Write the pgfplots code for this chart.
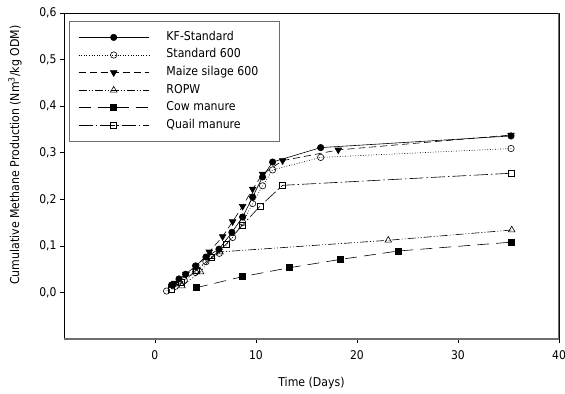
\documentclass[border=0pt]{standalone}
\usepackage{fontspec}
\setmainfont{DejaVu Sans Condensed}
\usepackage{pgfplots}
\pgfplotsset{compat=1.18}
\definecolor{axgray}{RGB}{110,110,110}
\begin{document}
\begin{tikzpicture}
\path[use as bounding box] (-64bp,-55bp) rectangle (501bp,339bp);
\begin{axis}[
  at={(0,0)}, anchor=south west,
  scale only axis, width=495bp, height=326bp,
  xmin=-9, xmax=40, ymin=-0.1, ymax=0.6,
  xtick={0,10,20,30,40}, ytick={0,0.1,0.2,0.3,0.4,0.5,0.6},
  axis line style={black, line width=0.7pt},
  tick style={black, line width=0.6pt},
  tick align=outside, major tick length=4bp,
  xtick pos=left, ytick pos=left,
  /pgf/number format/assume math mode=true,
  yticklabel style={/pgf/number format/.cd, fixed, fixed zerofill, precision=1, use comma, /tikz/.cd},
  tick label style={font=\fontsize{12bp}{14bp}\selectfont},
  xticklabel style={yshift=-4bp},
  every axis x label/.style={at={(rel axis cs:0.5,0)}, yshift=-44bp, anchor=center},
  every axis y label/.style={at={(rel axis cs:0,0.564)}, xshift=-49bp, rotate=90, anchor=center},
  label style={font=\fontsize{12.2bp}{14bp}\selectfont},
  xlabel={Time (Days)},
  ylabel={Cumulative Methane Production (Nm\textsuperscript{3}/kg ODM)},
  legend cell align=left,
  legend image code/.code={\draw[mark repeat=2,mark phase=2,#1] plot coordinates {(0bp,0bp) (35bp,0bp) (70bp,0bp)};},
  legend style={at={(rel axis cs:0.0101,0.9755)}, anchor=north west,
    draw=axgray, line width=0.8pt, fill=white,
    inner xsep=9bp, inner ysep=10.5bp, row sep=6.6bp, column sep=14bp,
    font=\fontsize{12.2bp}{14bp}\selectfont,
    nodes={text height=8.5bp, text depth=2.5bp, inner ysep=0pt, inner xsep=3.5bp}},
]
\addplot[black, line width=0.6pt, mark=*, mark size=3.2bp, mark options={solid, fill=black}] coordinates {
(1.65,0.016) (2.38,0.029) (3.04,0.039) (4.03,0.057) (5.05,0.076) (6.34,0.093) (7.62,0.129) (8.68,0.162) (9.67,0.205) (10.66,0.248) (11.65,0.280) (16.41,0.311) (35.25,0.336)};
\addlegendentry{KF-Standard}
\addplot[black, line width=0.6pt, dash pattern=on 0.8pt off 1.8pt, mark=o, mark size=3.2bp, mark options={solid, fill=white}] coordinates {
(1.16,0.003) (2.0,0.013) (2.9,0.026) (4.0,0.043) (5.05,0.066) (6.37,0.084) (7.69,0.118) (8.68,0.150) (9.67,0.191) (10.66,0.229) (11.65,0.263) (16.41,0.290) (35.25,0.309)};
\addlegendentry{Standard 600}
\addplot[black, line width=0.6pt, dash pattern=on 7bp off 4bp, mark=triangle*, mark size=3.8bp, mark options={solid, rotate=180, fill=black}] coordinates {
(1.98,0.020) (3.07,0.039) (4.06,0.055) (5.38,0.087) (6.70,0.120) (7.69,0.152) (8.68,0.185) (9.67,0.222) (10.66,0.254) (12.64,0.283) (18.15,0.306) (35.25,0.338)};
\addlegendentry{\makebox[100bp][l]{Maize silage 600}}
\addplot[black, line width=0.6pt, dash pattern=on 8bp off 2bp on 1bp off 2bp on 1bp off 2bp, mark=triangle, mark size=3.8bp, mark options={solid, fill=white}] coordinates {
(2.67,0.014) (4.52,0.044) (5.61,0.077) (6.44,0.087) (23.1,0.112) (35.32,0.134)};
\addlegendentry{ROPW}
\addplot[black, line width=0.6pt, dash pattern=on 12bp off 7bp, mark=square*, mark size=3bp, mark options={solid, fill=black}] coordinates {
(4.06,0.010) (8.68,0.034) (13.30,0.053) (18.39,0.071) (24.09,0.089) (35.32,0.108)};
\addlegendentry{Cow manure}
\addplot[black, line width=0.6pt, dash pattern=on 14bp off 3bp on 1.5bp off 3bp, mark=square, mark size=3bp, mark options={solid, fill=white}] coordinates {
(1.65,0.007) (2.64,0.021) (4.06,0.047) (5.61,0.075) (7.03,0.103) (8.68,0.145) (10.40,0.185) (12.64,0.230) (35.32,0.256)};
\addlegendentry{Quail manure}
\draw[axgray, line width=1.6pt] (rel axis cs:0,0) -- (rel axis cs:1,0) -- (rel axis cs:1,1);
\end{axis}
\end{tikzpicture}
\end{document}
